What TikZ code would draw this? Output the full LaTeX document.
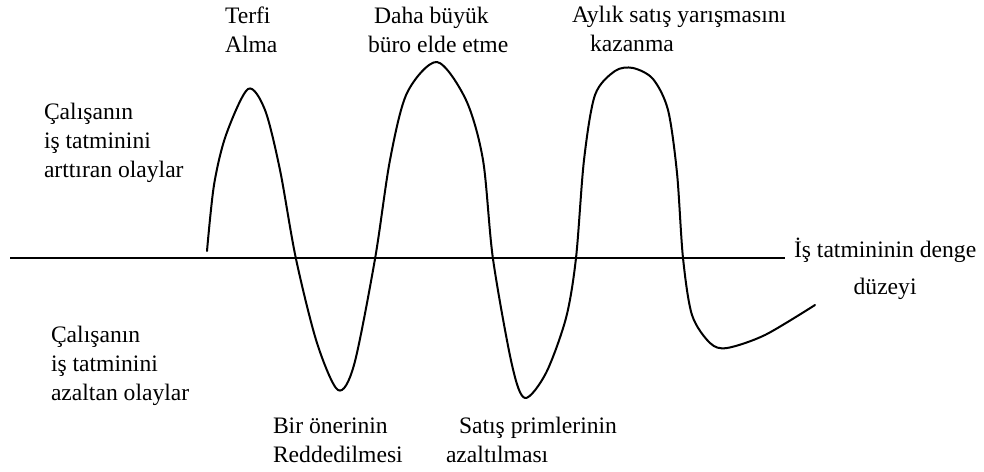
\documentclass[tikz,border=0pt]{standalone}
\usepackage{fontspec}
\setmainfont{Liberation Serif}
\usetikzlibrary{
  calc, % Koordinatenrechnung
  positioning % relative Platzierung
}

\begin{document}
\begin{tikzpicture}[
      x=0.5pt, y=-0.5pt, % 1 Einheit = 1 Pixel
      line width=1pt, % Standard-Strichstaerke
      etikett/.style={font=\fontsize{11.8}{14.3}\selectfont, align=left, inner sep=0pt, anchor=base west}, % Beschriftungen (Basis = letzte Zeile)
      welle/.style={line width=1pt, line cap=round, line join=round}, % Zufriedenheitskurve
    ]

    % Rahmen
    \useasboundingbox (0,0) rectangle (984,471);

    % Beschriftungen oben
    \node[etikett] (terfi) at (224,52) {Terfi\\Alma};
    \node[etikett] (buero) at (367,52) {\hspace*{3pt}Daha büyük\\büro elde etme};
    \node[etikett] (yaris) at (571,51) {Aylık satış yarışmasını\\\hspace*{9pt}kazanma};

    % Beschriftungen links
    \node[etikett] (artti) at (43,177) {Çalışanın\\iş tatminini\\arttıran olaylar};
    \node[etikett] (azalt) at (50,400) {Çalışanın\\iş tatminini\\azaltan olaylar};

    % Beschriftungen unten
    \node[etikett] (oneri) at (272,462) {Bir önerinin\\Reddedilmesi};
    \node[etikett] (prim) at (445,462) {\hspace*{6.5pt}Satış primlerinin\\azaltılması};

    % Gleichgewichtsniveau
    \node[etikett, align=center] (denge) at (793,294) {İş tatmininin denge\\[4pt]düzeyi};
    \coordinate (nullinks) at (10,258);
    \draw[shorten >=4pt] (nullinks) -- (nullinks -| denge.west);

    % Kurve
    \draw[welle] plot[smooth, tension=0.5] coordinates {
      (207,251) (214,185) (226,135) (248,89) (265,110) (280,170)
      (296,259) (317,343) (338,390) (354,365) (375,259) (390,160) (407,93)
      (437,62) (466,100) (483,160) (493,259) (512,365) (525,398) (546,373)
      (566,318) (576,258) (584,160) (595,95) (615,71) (633,68) (653,79)
      (668,110) (677,173) (683,258) (692,315) (710,343) (727,348) (765,335)
      (815,305)};
  \end{tikzpicture}
\end{document}
